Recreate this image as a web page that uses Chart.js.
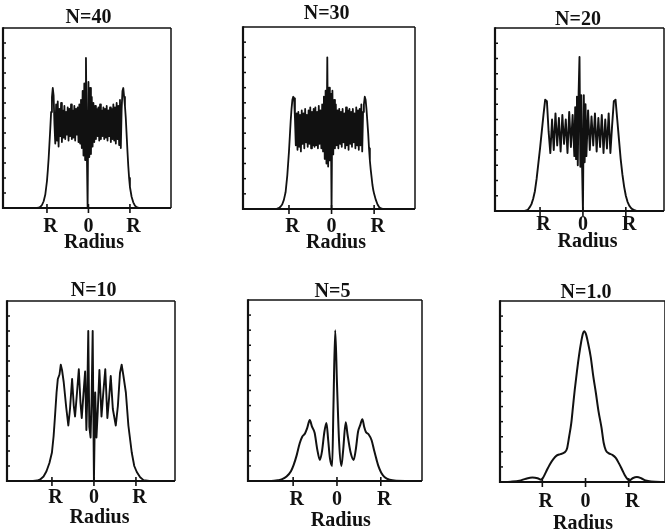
<!DOCTYPE html>
<html>
<head>
<meta charset="utf-8">
<script src="https://cdn.jsdelivr.net/npm/chart.js@4.4.1/dist/chart.umd.min.js"></script>
<style>
  html, body { margin: 0; padding: 0; background: #fff; overflow: hidden; }
  #wrap { position: relative; width: 665px; height: 532px; background: #fff; }
  #wrap canvas { position: absolute; left: 0; top: 0; }
</style>
</head>
<body>
<div id="wrap"></div>
<script>
// Radius in units of R: finer sampling inside the aperture for the high-N profiles
const fineRadius = [
  -2.00,-1.96,-1.92,-1.88,-1.84,-1.80,-1.76,-1.72,-1.68,-1.64,
  -1.60,-1.56,-1.52,-1.48,-1.44,-1.40,-1.36,-1.32,-1.28,-1.24,
  -1.20,-1.16,-1.12,-1.08,-1.04,-1.00,
  -0.98,-0.96,-0.94,-0.92,-0.90,-0.88,-0.86,-0.84,-0.82,-0.80,
  -0.78,-0.76,-0.74,-0.72,-0.70,-0.68,-0.66,-0.64,-0.62,-0.60,
  -0.58,-0.56,-0.54,-0.52,-0.50,-0.48,-0.46,-0.44,-0.42,-0.40,
  -0.38,-0.36,-0.34,-0.32,-0.30,-0.28,-0.26,-0.24,-0.22,-0.20,
  -0.18,-0.16,-0.14,-0.12,-0.10,-0.08,-0.06,-0.04,-0.02, 0.00,
   0.02, 0.04, 0.06, 0.08, 0.10, 0.12, 0.14, 0.16, 0.18, 0.20,
   0.22, 0.24, 0.26, 0.28, 0.30, 0.32, 0.34, 0.36, 0.38, 0.40,
   0.42, 0.44, 0.46, 0.48, 0.50, 0.52, 0.54, 0.56, 0.58, 0.60,
   0.62, 0.64, 0.66, 0.68, 0.70, 0.72, 0.74, 0.76, 0.78, 0.80,
   0.82, 0.84, 0.86, 0.88, 0.90, 0.92, 0.94, 0.96, 0.98, 1.00,
   1.04, 1.08, 1.12, 1.16, 1.20, 1.24, 1.28, 1.32, 1.36, 1.40,
   1.44, 1.48, 1.52, 1.56, 1.60, 1.64, 1.68, 1.72, 1.76, 1.80,
   1.84, 1.88, 1.92, 1.96, 2.00
];

// Radius grid for the N=20 profile (finer near the axis)
const radiusN20 = [
  -2.00,-1.96,-1.92,-1.88,-1.84,-1.80,-1.76,-1.72,-1.68,-1.64,
  -1.60,-1.56,-1.52,-1.48,-1.44,-1.40,-1.36,-1.32,-1.28,-1.24,
  -1.20,-1.16,-1.12,-1.08,-1.04,-1.00,-0.96,-0.92,-0.88,-0.84,
  -0.80,-0.76,-0.72,-0.68,-0.64,-0.60,-0.56,-0.52,-0.48,-0.44,
  -0.40,-0.36,-0.32,-0.28,-0.24,
  -0.20,-0.18,-0.16,-0.14,-0.12,-0.10,-0.08,-0.06,-0.04,-0.02,
   0.00, 0.02, 0.04, 0.06, 0.08,
   0.12, 0.16, 0.20, 0.24, 0.28, 0.32, 0.36, 0.40,
   0.44, 0.48, 0.52, 0.56, 0.60, 0.64, 0.68, 0.72, 0.76, 0.80,
   0.84, 0.88, 0.92, 0.96, 1.00, 1.04, 1.08, 1.12, 1.16, 1.20,
   1.24, 1.28, 1.32, 1.36, 1.40, 1.44, 1.48, 1.52, 1.56, 1.60,
   1.64, 1.68, 1.72, 1.76, 1.80, 1.84, 1.88, 1.92, 1.96, 2.00
];

// Intensity profiles (arbitrary units)
const intensityN40 = [
  0,0,0,0,0,0,0,0,0,0,
  0,0,0,0,0,0,0,0,0,0,
  0.02,0.08,0.2,0.45,0.9,1.8,
  2.5,3.3,4.3,5.3,6.4,7.4,8.0,7.5,5.6,4.3,
  6.9,4.5,7.1,4.1,6.6,4.8,7.0,4.4,6.5,4.7,
  6.8,4.6,6.4,4.9,6.7,4.5,6.6,4.8,6.9,4.6,
  6.5,4.7,6.8,4.5,6.6,4.9,6.7,4.4,6.9,4.3,
  7.2,4.0,7.8,3.5,8.3,3.2,10.0,4.0,0,8.4,
  3.4,8.0,3.6,7.4,4.1,7.0,4.4,6.8,4.6,6.6,
  4.8,6.7,4.5,6.9,4.6,6.5,4.8,6.7,4.6,6.6,
  4.7,6.8,4.5,6.5,4.8,6.7,4.4,6.6,4.6,6.9,
  4.5,6.7,4.3,7.0,4.6,6.8,4.2,7.2,4.0,6.6,
  7.8,8.0,7.4,6.8,6.0,4.9,3.8,2.8,2.0,1.4,
  0.75,0.38,0.16,0.06,0.02,0,0,0,0,0,
  0,0,0,0,0,0,0,0,0,0,
  0,0,0,0,0
];

const intensityN30 = [
  0,0,0,0,0,0,0,0,0,0,
  0,0,0,0,0,0,0,0,0.02,0.06,
  0.15,0.3,0.6,1.1,2.2,3.8,
  4.8,5.8,6.6,7.2,7.4,7.3,6.0,4.2,6.3,3.9,
  6.4,4.1,6.2,3.8,6.5,4.3,6.3,4.0,6.6,4.4,
  6.2,4.1,6.5,4.3,6.7,4.0,6.4,4.2,6.6,4.1,
  6.7,4.2,6.4,4.0,6.8,4.3,6.5,4.0,6.9,3.8,
  7.4,3.3,7.8,3.0,10.0,2.8,8.0,3.2,7.6,0,
  7.8,3.6,7.2,4.0,6.9,4.2,6.5,4.0,6.6,4.3,
  6.4,4.1,6.6,4.4,6.3,4.0,6.7,4.2,6.5,3.9,
  6.6,4.3,6.4,4.1,6.6,4.4,6.3,4.0,6.7,4.2,
  6.5,3.9,6.6,4.2,6.9,3.8,6.4,6.9,7.4,7.2,
  6.6,5.8,5.0,4.0,3.2,2.6,2.1,1.6,1.25,1.0,
  0.6,0.3,0.12,0.04,0.01,0,0,0,0,0,
  0,0,0,0,0,0,0,0,0,0,
  0,0,0,0,0
];

const intensityN20 = [
  0,0,0,0,0,0,0,0,0,0,
  0,0,0,0,0,0,0,0.03,0.1,0.25,
  0.45,0.8,1.3,2.1,3.1,4.1,5.2,6.3,7.3,7.2,
  5.2,3.8,6.0,4.0,6.4,4.3,6.1,3.9,6.3,4.4,
  6.0,3.8,6.5,4.2,6.3,
  3.6,6.8,3.4,7.5,3.0,7.8,10.1,2.9,7.6,3.0,
  0,7.6,3.2,7.0,3.6,
  6.6,4.0,6.2,4.3,6.4,3.9,6.1,4.2,
  6.3,3.8,6.0,4.1,6.4,3.8,5.6,7.2,7.3,6.0,
  4.7,3.4,2.4,1.6,1.0,0.6,0.35,0.2,0.1,0.05,
  0.02,0,0,0,0,0,0,0,0,0,
  0,0,0,0,0,0,0,0,0,0
];

const radiusN10 = [
  -2.0,-1.45,-1.35,-1.28,-1.2,-1.13,-1.06,-1.0,-0.96,-0.93,
  -0.89,-0.86,-0.82,-0.79,-0.76,-0.72,-0.66,-0.61,-0.57,-0.52,
  -0.48,-0.45,-0.40,-0.36,-0.32,-0.29,-0.25,-0.21,-0.18,-0.16,
  -0.135,-0.11,-0.08,-0.055,-0.03,0.0,0.03,0.06,0.09,0.13,
  0.18,0.22,0.27,0.32,0.36,0.40,0.45,0.52,0.57,0.62,
  0.66,0.70,0.76,0.82,0.90,0.96,1.02,1.10,1.18,1.32,1.93
];
const intensityN10 = [
  0,0,0.03,0.1,0.3,0.65,1.2,1.9,3.0,4.2,
  5.9,6.8,7.1,7.75,7.4,6.6,4.9,3.7,4.8,6.8,
  5.0,4.3,6.0,7.45,5.2,4.2,5.8,7.3,3.4,5.5,
  10.0,3.6,2.9,5.6,10.0,0,5.9,2.9,4.6,7.4,
  4.3,5.8,7.45,4.2,5.5,7.0,4.8,3.7,5.0,7.2,
  7.75,7.05,5.9,3.7,1.9,1.0,0.6,0.25,0.06,0,0
];

const radiusN5 = [
  -2.0,-1.5,-1.35,-1.25,-1.15,-1.05,-0.99,-0.92,-0.85,-0.79,
  -0.73,-0.68,-0.62,-0.57,-0.51,-0.45,-0.39,-0.34,-0.29,-0.24,
  -0.20,-0.16,-0.11,-0.08,-0.04,0.0,0.05,0.10,0.14,0.20,
  0.24,0.31,0.38,0.43,0.48,0.53,0.58,0.62,0.66,0.72,
  0.79,0.85,0.90,0.95,1.01,1.09,1.20,1.35,1.95
];
const intensityN5 = [
  0,0,0.05,0.12,0.3,0.65,1.05,1.7,2.5,2.95,
  3.15,3.5,4.05,3.6,3.2,2.1,1.4,2.0,3.2,3.85,
  2.7,1.5,1.0,5.0,10.0,6.5,2.5,1.0,2.0,3.9,
  3.1,1.9,1.4,2.1,3.25,3.7,4.1,3.6,3.25,3.1,
  2.7,2.0,1.45,0.95,0.55,0.25,0.08,0.02,0
];

const radiusN1 = [
  -1.98,-1.73,-1.53,-1.38,-1.23,-1.11,-1.03,-0.98,-0.91,-0.83,
  -0.75,-0.67,-0.58,-0.49,-0.43,-0.38,-0.33,-0.29,-0.25,-0.20,
  -0.15,-0.10,-0.06,-0.03,0.01,0.06,0.12,0.18,0.24,0.30,
  0.37,0.42,0.47,0.54,0.62,0.70,0.78,0.85,0.91,0.97,
  1.02,1.09,1.19,1.29,1.39,1.52,1.84
];
const intensityN1 = [
  0,0.02,0.08,0.22,0.3,0.25,0.15,0.3,0.7,1.15,
  1.5,1.75,1.85,1.95,2.2,3.0,3.9,5.0,6.1,7.3,
  8.4,9.3,9.85,10.0,9.8,9.2,8.3,7.0,5.9,4.7,
  3.6,2.6,2.1,1.9,1.8,1.6,1.2,0.8,0.45,0.2,
  0.12,0.25,0.33,0.25,0.1,0.03,0
];

const panelTitles = ['N=40', 'N=30', 'N=20', 'N=10', 'N=5', 'N=1.0'];
const tickValues = [-1, 0, 1];
const tickLabels = ['R', '0', 'R'];
const yTickValues = [1, 2, 3, 4, 5, 6, 7, 8, 9, 10, 11];
const axisName = 'Radius';

const panelSeries = [
  [fineRadius, intensityN40],
  [fineRadius, intensityN30],
  [radiusN20, intensityN20],
  [radiusN10, intensityN10],
  [radiusN5, intensityN5],
  [radiusN1, intensityN1]
];

// Page geometry of each panel: frame box [left, top, right, bottom], x range, text anchors
const panelLayout = [
  { box: [3, 28, 171, 208],   xr: [-2.06, 1.99], title: [88.5, 23],  tickBase: 232, name: [94, 248],    smooth: false, lw: 1.8 },
  { box: [243, 27, 415, 209], xr: [-2.08, 1.96], title: [326.7, 18.5], tickBase: 232, name: [336, 248], smooth: false, lw: 1.8 },
  { box: [495, 28, 664, 211], xr: [-2.05, 1.89], title: [578, 25],   tickBase: 230, name: [587.5, 247], smooth: false, lw: 1.9 },
  { box: [7, 301, 175, 481],  xr: [-2.07, 1.93], title: [93.7, 296], tickBase: 503, name: [99.5, 523],  smooth: false, lw: 1.9 },
  { box: [248, 300, 422, 481],xr: [-2.03, 1.94], title: [332.5, 297],tickBase: 505, name: [340.8, 526], smooth: true,  lw: 2.0 },
  { box: [500, 301, 665, 482],xr: [-1.98, 1.84], title: [586, 298],  tickBase: 507, name: [583, 529],   smooth: true,  lw: 2.0 }
];

const W = 665, H = 532;
const INK = '#111';

// Frame, inward tick marks and the text of each panel
const panelFrame = {
  id: 'panelFrame',
  afterDraw(chart, args, opts) {
    const { ctx, chartArea: a } = chart;
    const xs = chart.scales.x, ys = chart.scales.y;
    ctx.save();
    ctx.strokeStyle = INK;
    ctx.fillStyle = INK;
    const seg = (x1, y1, x2, y2, w) => {
      ctx.lineWidth = w;
      ctx.beginPath();
      ctx.moveTo(x1, y1);
      ctx.lineTo(x2, y2);
      ctx.stroke();
    };
    seg(a.left, a.top - 0.8, a.left, a.bottom + 1, 2.2);
    seg(a.left, a.bottom, a.right, a.bottom, 2);
    seg(a.left, a.top, a.right, a.top, 1.5);
    seg(a.right, a.top, a.right, a.bottom, 1.5);
    yTickValues.forEach(v => {
      const py = ys.getPixelForValue(v);
      seg(a.left, py, a.left + 3, py, 1.5);
    });
    tickValues.forEach(v => {
      const px = xs.getPixelForValue(v);
      seg(px, a.bottom - 4, px, a.bottom + 5, 1.6);
    });
    ctx.font = 'bold 20px "Liberation Serif", "Times New Roman", serif';
    ctx.textAlign = 'center';
    ctx.textBaseline = 'alphabetic';
    tickValues.forEach((v, i) => {
      const px = xs.getPixelForValue(v);
      const shift = tickLabels[i] === 'R' ? 3.5 : 0;
      ctx.fillText(tickLabels[i], px + shift, opts.tickBase);
    });
    ctx.fillText(opts.title, opts.titleX, opts.titleY);
    ctx.fillText(axisName, opts.nameX, opts.nameY);
    ctx.restore();
  }
};

const wrap = document.getElementById('wrap');

panelLayout.forEach((p, k) => {
  const canvas = document.createElement('canvas');
  canvas.width = W;
  canvas.height = H;
  canvas.style.width = W + 'px';
  canvas.style.height = H + 'px';
  wrap.appendChild(canvas);

  const [rad, val] = panelSeries[k];
  const points = rad.map((r, i) => ({ x: r, y: val[i] }));

  new Chart(canvas, {
    type: 'line',
    data: {
      datasets: [{
        data: points,
        borderColor: INK,
        borderWidth: p.lw,
        pointRadius: 0,
        fill: false,
        tension: 0,
        cubicInterpolationMode: p.smooth ? 'monotone' : 'default',
        borderJoinStyle: 'round'
      }]
    },
    options: {
      responsive: false,
      animation: false,
      devicePixelRatio: 1,
      layout: {
        padding: { left: p.box[0], top: p.box[1], right: W - p.box[2], bottom: H - p.box[3] }
      },
      scales: {
        x: { type: 'linear', min: p.xr[0], max: p.xr[1], display: false },
        y: { type: 'linear', min: 0, max: 12, display: false }
      },
      plugins: {
        legend: { display: false },
        tooltip: { enabled: false },
        panelFrame: {
          title: panelTitles[k],
          titleX: p.title[0], titleY: p.title[1],
          tickBase: p.tickBase,
          nameX: p.name[0], nameY: p.name[1]
        }
      }
    },
    plugins: [panelFrame]
  });
});
</script>
</body>
</html>
